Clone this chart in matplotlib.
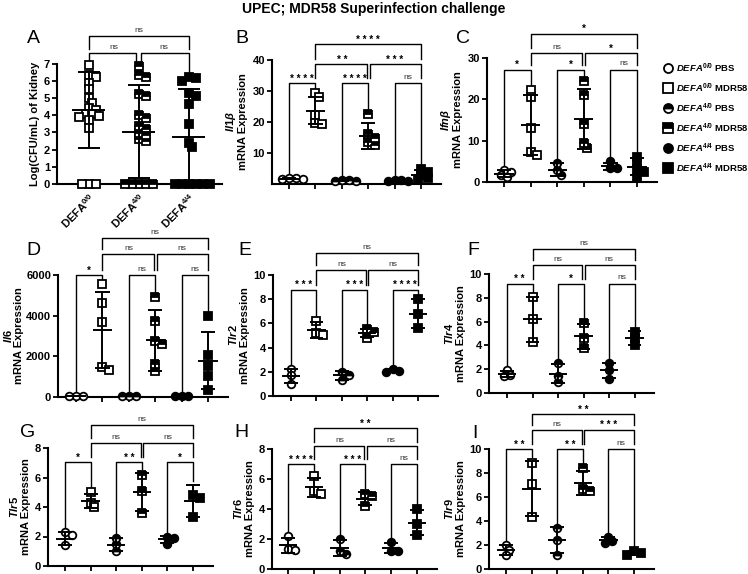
import numpy as np
import matplotlib
matplotlib.use("Agg")
import matplotlib.pyplot as plt
from matplotlib.lines import Line2D

plt.rcParams["font.family"] = ["Liberation Sans", "DejaVu Sans"]
plt.rcParams["font.weight"] = "bold"
plt.rcParams["mathtext.fontset"] = "custom"
plt.rcParams["mathtext.rm"] = "Liberation Sans:bold"
plt.rcParams["mathtext.bf"] = "Liberation Sans:bold"
plt.rcParams["mathtext.it"] = "Liberation Sans:italic:bold"
plt.rcParams["axes.linewidth"] = 1.5

# ---------------- data ----------------
legend_labels = [r"$DEFA^{\mathit{0/0}}$ PBS", r"$DEFA^{\mathit{0/0}}$ MDR58",
                 r"$DEFA^{\mathit{4/0}}$ PBS", r"$DEFA^{\mathit{4/0}}$ MDR58",
                 r"$DEFA^{\mathit{4/4}}$ PBS", r"$DEFA^{\mathit{4/4}}$ MDR58"]

a_labels = ["DEFA$^{0/0}$", "DEFA$^{4/0}$", "DEFA$^{4/4}$"]
a_vals = [[6.9, 6.35, 6.25, 5.9, 5.5, 5.0, 4.7, 4.4, 4.3, 4.1, 4.05, 3.95, 3.9, 3.75, 3.25, 0, 0, 0],
          [6.85, 6.35, 6.25, 5.25, 5.1, 4.0, 3.85, 3.35, 3.2, 2.95, 2.85, 2.6, 2.5, 0, 0, 0, 0, 0],
          [6.2, 6.15, 6.0, 5.3, 5.1, 4.65, 3.5, 2.4, 2.15, 0, 0, 0, 0, 0, 0]]
a_mean = [4.3, 3.05, 2.75]
a_sd = [2.2, 2.7, 2.8]
a_stars = ["ns", "ns", "ns"]
a_levels = [7.6, 8.6]

b_vals = [[2.0, 1.8, 1.6, 1.5], [29.5, 28.0, 22.3, 19.6, 19.4], [1.3, 1.2, 1.1, 1.0],
          [22.5, 16.0, 15.0, 13.5, 12.5], [1.4, 1.2, 1.1, 1.0], [5.0, 4.0, 2.8, 1.8, 1.2]]
b_mean = [1.7, 23.7, 1.15, 15.5, 1.2, 3.0]
b_sd = [0.2, 4.5, 0.15, 4.1, 0.2, 1.4]
b_stars = ["****", "****", "ns", "**", "***", "****"]
b_levels = [32.5, 38.7, 45.2]

c_vals = [[3.0, 2.5, 1.8, 1.2], [22.3, 20.5, 13.0, 7.2, 6.5], [4.5, 3.0, 1.8],
          [24.5, 21.0, 14.0, 9.4, 8.2], [5.0, 3.5, 3.3], [6.0, 4.5, 3.2, 2.3, 1.0]]
c_mean = [2.0, 13.8, 3.0, 15.3, 3.8, 3.7]
c_sd = [0.8, 7.2, 1.5, 7.2, 0.9, 2.0]
c_stars = ["*", "*", "ns", "ns", "*", "*"]
c_levels = [27.2, 31.2, 35.9]

d_vals = [[60, 50, 40], [5560, 4610, 3680, 1470, 1340], [40, 30, 30],
          [4900, 3740, 2770, 2610, 1600, 1270], [40, 30, 30], [4000, 2080, 1520, 1030, 320]]
d_mean = [50, 3300, 30, 2800, 30, 1790]
d_sd = [20, 1850, 15, 1500, 15, 1420]
d_stars = ["*", "ns", "ns", "ns", "ns", "ns"]
d_levels = [6000, 7030, 7820]

e_vals = [[2.2, 1.7, 1.0], [6.2, 5.2, 5.0], [2.0, 1.7, 1.3],
          [5.5, 5.3, 4.8], [2.25, 2.1, 2.0], [8.0, 6.8, 5.6]]
e_mean = [1.65, 5.45, 1.7, 5.2, 2.1, 6.8]
e_sd = [0.6, 0.65, 0.35, 0.35, 0.12, 1.2]
e_stars = ["***", "***", "****", "ns", "ns", "ns"]
e_levels = [8.8, 10.4, 11.8]

f_vals = [[1.9, 1.5, 1.4], [8.1, 6.2, 4.3], [2.5, 1.4, 0.9],
          [5.9, 4.6, 3.8], [2.5, 1.9, 1.2], [5.1, 4.6, 4.0]]
f_mean = [1.6, 6.2, 1.6, 4.75, 1.9, 4.6]
f_sd = [0.25, 1.9, 0.8, 1.05, 0.65, 0.6]
f_stars = ["**", "*", "ns", "ns", "ns", "ns"]
f_levels = [9.2, 10.75, 12.1]

g_vals = [[2.3, 2.1, 1.4], [5.0, 4.3, 4.0], [1.9, 1.5, 1.0],
          [6.2, 5.1, 3.6], [2.0, 1.9, 1.5], [4.8, 4.6, 3.3]]
g_mean = [1.85, 4.4, 1.45, 5.0, 1.8, 4.4]
g_sd = [0.45, 0.5, 0.45, 1.3, 0.25, 1.1]
g_stars = ["*", "**", "*", "ns", "ns", "ns"]
g_levels = [7.05, 8.34, 9.57]

h_vals = [[2.2, 1.35, 1.3], [6.2, 5.2, 5.0], [2.0, 1.2, 1.0],
          [5.0, 4.9, 4.2], [1.8, 1.2, 1.2], [4.0, 3.0, 2.3]]
h_mean = [1.6, 5.45, 1.4, 4.7, 1.4, 3.1]
h_sd = [0.5, 0.65, 0.55, 0.45, 0.35, 0.85]
h_stars = ["****", "***", "ns", "ns", "ns", "**"]
h_levels = [7.0, 8.18, 9.4]

i_vals = [[2.0, 1.6, 1.2], [8.8, 7.1, 4.3], [3.4, 2.4, 1.2],
          [8.4, 6.7, 6.5], [2.7, 2.3, 2.2], [1.5, 1.3, 1.2]]
i_mean = [1.6, 6.7, 2.4, 7.2, 2.4, 1.35]
i_sd = [0.4, 2.3, 1.1, 1.0, 0.25, 0.15]
i_stars = ["**", "**", "ns", "ns", "***", "**"]
i_levels = [10.0, 11.6, 12.9]

# ---------------- layout ----------------
W, H = 748, 574
styles6 = [("o", "none"), ("s", "none"), ("o", "top"), ("s", "top"), ("o", "full"), ("s", "full")]
styles_a = [("s", "none"), ("s", "top"), ("s", "full")]
pairs6 = [(0, 1, 0), (2, 3, 0), (4, 5, 0), (1, 3, 1), (3, 5, 1), (1, 5, 2)]
pairs_a = [(0, 1, 0), (1, 2, 0), (0, 2, 1)]

fig = plt.figure(figsize=(W / 100, H / 100), dpi=100)
MS = 5.5


def make_ax(left, tick0, sp, y0, ytop, xhi, ymax):
    xlo = -(tick0 - left) / sp
    ax = fig.add_axes([left / W, 1 - y0 / H, (xhi - xlo) * sp / W, (y0 - ytop) / H])
    ax.set_xlim(xlo, xhi)
    ax.set_ylim(0, ymax)
    ax.spines[["top", "right"]].set_visible(False)
    ax.tick_params(direction="out", length=3.5, width=1.3, labelsize=8, pad=1.5)
    return ax


def swarm(ax, x, vals):
    pts = ax.transData.transform(np.column_stack([np.full(len(vals), x), vals]))
    ys = pts[:, 1]
    ppu = ax.transData.transform((1, 0))[0] - ax.transData.transform((0, 0))[0]
    size = MS * 100 / 72
    placed, offs = [], np.zeros(len(vals))
    for i in np.argsort(-np.asarray(vals, float)):
        for k in [0, 1, -1, 2, -2, 3, -3, 4, -4, 5, -5, 6, -6]:
            dx = k * size * 0.45
            if all((dx - px) ** 2 + (ys[i] - py) ** 2 >= (size * 0.7) ** 2 for px, py in placed):
                break
        placed.append((dx, ys[i]))
        offs[i] = dx / ppu
    return offs


def marker_kw(shape, fill, ms=MS):
    kw = dict(marker=shape, ms=ms, mec="black", mew=1.3, ls="none")
    if fill == "none":
        kw.update(mfc="white")
    elif fill == "top":
        kw.update(fillstyle="top", mfc="black", markerfacecoloralt="white")
    else:
        kw.update(mfc="black")
    return kw


def panel(ax, vals, mean, sd, styles, stars, pairs, levels, ymax, mw, cw):
    for g, v in enumerate(vals):
        offs = swarm(ax, g, v)
        ax.plot(g + offs, v, clip_on=False, zorder=3, **marker_kw(*styles[g]))
        m, s = mean[g], sd[g]
        ax.vlines(g, m - s, m + s, color="black", lw=1.4, zorder=4)
        ax.hlines([m - s, m + s], g - cw, g + cw, color="black", lw=1.4, zorder=4)
        ax.hlines(m, g - mw, g + mw, color="black", lw=1.4, zorder=4)
    tops = [max(max(v), m + s) + 0.035 * ymax for v, m, s in zip(vals, mean, sd)]
    for (x1, x2, lv), lab in zip(pairs, stars):
        y = levels[lv]
        if lv == 0:
            yl, yr = tops[x1], tops[x2]
        else:
            yl = yr = levels[lv - 1] + 0.04 * ymax
        shared = [p for p in pairs if p[2] == lv and p != (x1, x2, lv)]
        d1 = 0.05 if any(x1 in p[:2] for p in shared) else 0
        d2 = 0.05 if any(x2 in p[:2] for p in shared) else 0
        ax.plot([x1 + d1, x1 + d1, x2 - d2, x2 - d2], [yl, y, y, yr],
                color="black", lw=1.0, clip_on=False)
        if "*" in lab:
            ax.annotate(" ".join(lab), ((x1 + x2) / 2, y), xytext=(0, -0.5),
                        textcoords="offset points", ha="center", va="bottom",
                        fontsize=7, annotation_clip=False)
        else:
            ax.annotate(lab, ((x1 + x2) / 2, y), xytext=(0, 1.5),
                        textcoords="offset points", ha="center", va="bottom",
                        fontsize=6, fontweight="normal", color="#333333",
                        annotation_clip=False)


def bold_ticks(ax):
    for t in ax.get_yticklabels() + ax.get_xticklabels():
        t.set_fontweight("bold")


# panel A
ax = make_ax(57, 89, 50, 184, 63.7, 2.66, 7)
ax.set_yticks(range(0, 8))
ax.set_xticks(range(3))
ax.set_xticklabels(a_labels, rotation=45, ha="right", rotation_mode="anchor", fontsize=8)
ax.set_ylabel("Log(CFU/mL) of Kidney", fontsize=8, fontweight="bold", labelpad=3)
bold_ticks(ax)
panel(ax, a_vals, a_mean, a_sd, styles_a, a_stars, pairs_a, a_levels, 7, 0.33, 0.22)

gene_panels = [
    ("Il1\\beta", b_vals, b_mean, b_sd, b_stars, b_levels, 40, [10, 20, 30, 40], (272, 289, 26.4, 184, 60)),
    ("Ifn\\beta", c_vals, c_mean, c_sd, c_stars, c_levels, 30, [0, 10, 20, 30], (487, 504, 26.6, 182, 58)),
    ("Il6", d_vals, d_mean, d_sd, d_stars, d_levels, 6000, [0, 2000, 4000, 6000], (58, 76, 26.4, 397, 275)),
    ("Tlr2", e_vals, e_mean, e_sd, e_stars, e_levels, 10, [0, 2, 4, 6, 8, 10], (273, 291, 25.4, 396, 275)),
    ("Tlr4", f_vals, f_mean, f_sd, f_stars, f_levels, 10, [0, 2, 4, 6, 8, 10], (489, 507, 25.5, 393, 274)),
    ("Tlr5", g_vals, g_mean, g_sd, g_stars, g_levels, 8, [0, 2, 4, 6, 8], (48, 65, 25.6, 566, 448)),
    ("Tlr6", h_vals, h_mean, h_sd, h_stars, h_levels, 8, [0, 2, 4, 6, 8], (272, 288, 25.8, 569, 449)),
    ("Tlr9", i_vals, i_mean, i_sd, i_stars, i_levels, 10, [0, 2, 4, 6, 8, 10], (489, 506, 25.6, 569, 449)),
]
for gene, vals, mean, sd, stars, levels, ymax, yticks, box in gene_panels:
    ax = make_ax(*box, 5.77, ymax)
    ax.set_yticks(yticks)
    ax.set_xticks(range(6))
    ax.set_xticklabels([])
    ax.set_ylabel(r"$\mathit{" + gene + "}$" + "\nmRNA Expression", fontsize=8,
                  fontweight="bold", labelpad=1.5 if ymax > 100 else 3, linespacing=1.05)
    bold_ticks(ax)
    panel(ax, vals, mean, sd, styles6, stars, pairs6, levels, ymax, 0.36, 0.27)

# panel letters
for letter, x, y in [("A", 27, 30), ("B", 235, 30), ("C", 456, 30), ("D", 26, 242),
                     ("E", 238, 242), ("F", 467, 242), ("G", 20, 424), ("H", 234, 424), ("I", 472, 425)]:
    fig.text(x / W, 1 - y / H, letter, fontsize=14, fontweight="normal", va="top", ha="left")

# legend
for k, (lab, st) in enumerate(zip(legend_labels, styles6)):
    y = 1 - (68 + 20 * k) / H
    fig.add_artist(Line2D([668 / W], [y], transform=fig.transFigure, **marker_kw(*st, ms=6.5)))
    fig.text(676 / W, y, lab, fontsize=6.8, fontweight="bold", va="center", ha="left")

fig.text(0.5, 1 - 9 / H, "UPEC; MDR58 Superinfection challenge", fontsize=10,
         fontweight="bold", ha="center", va="center")

fig.savefig("out.png", dpi=100)
